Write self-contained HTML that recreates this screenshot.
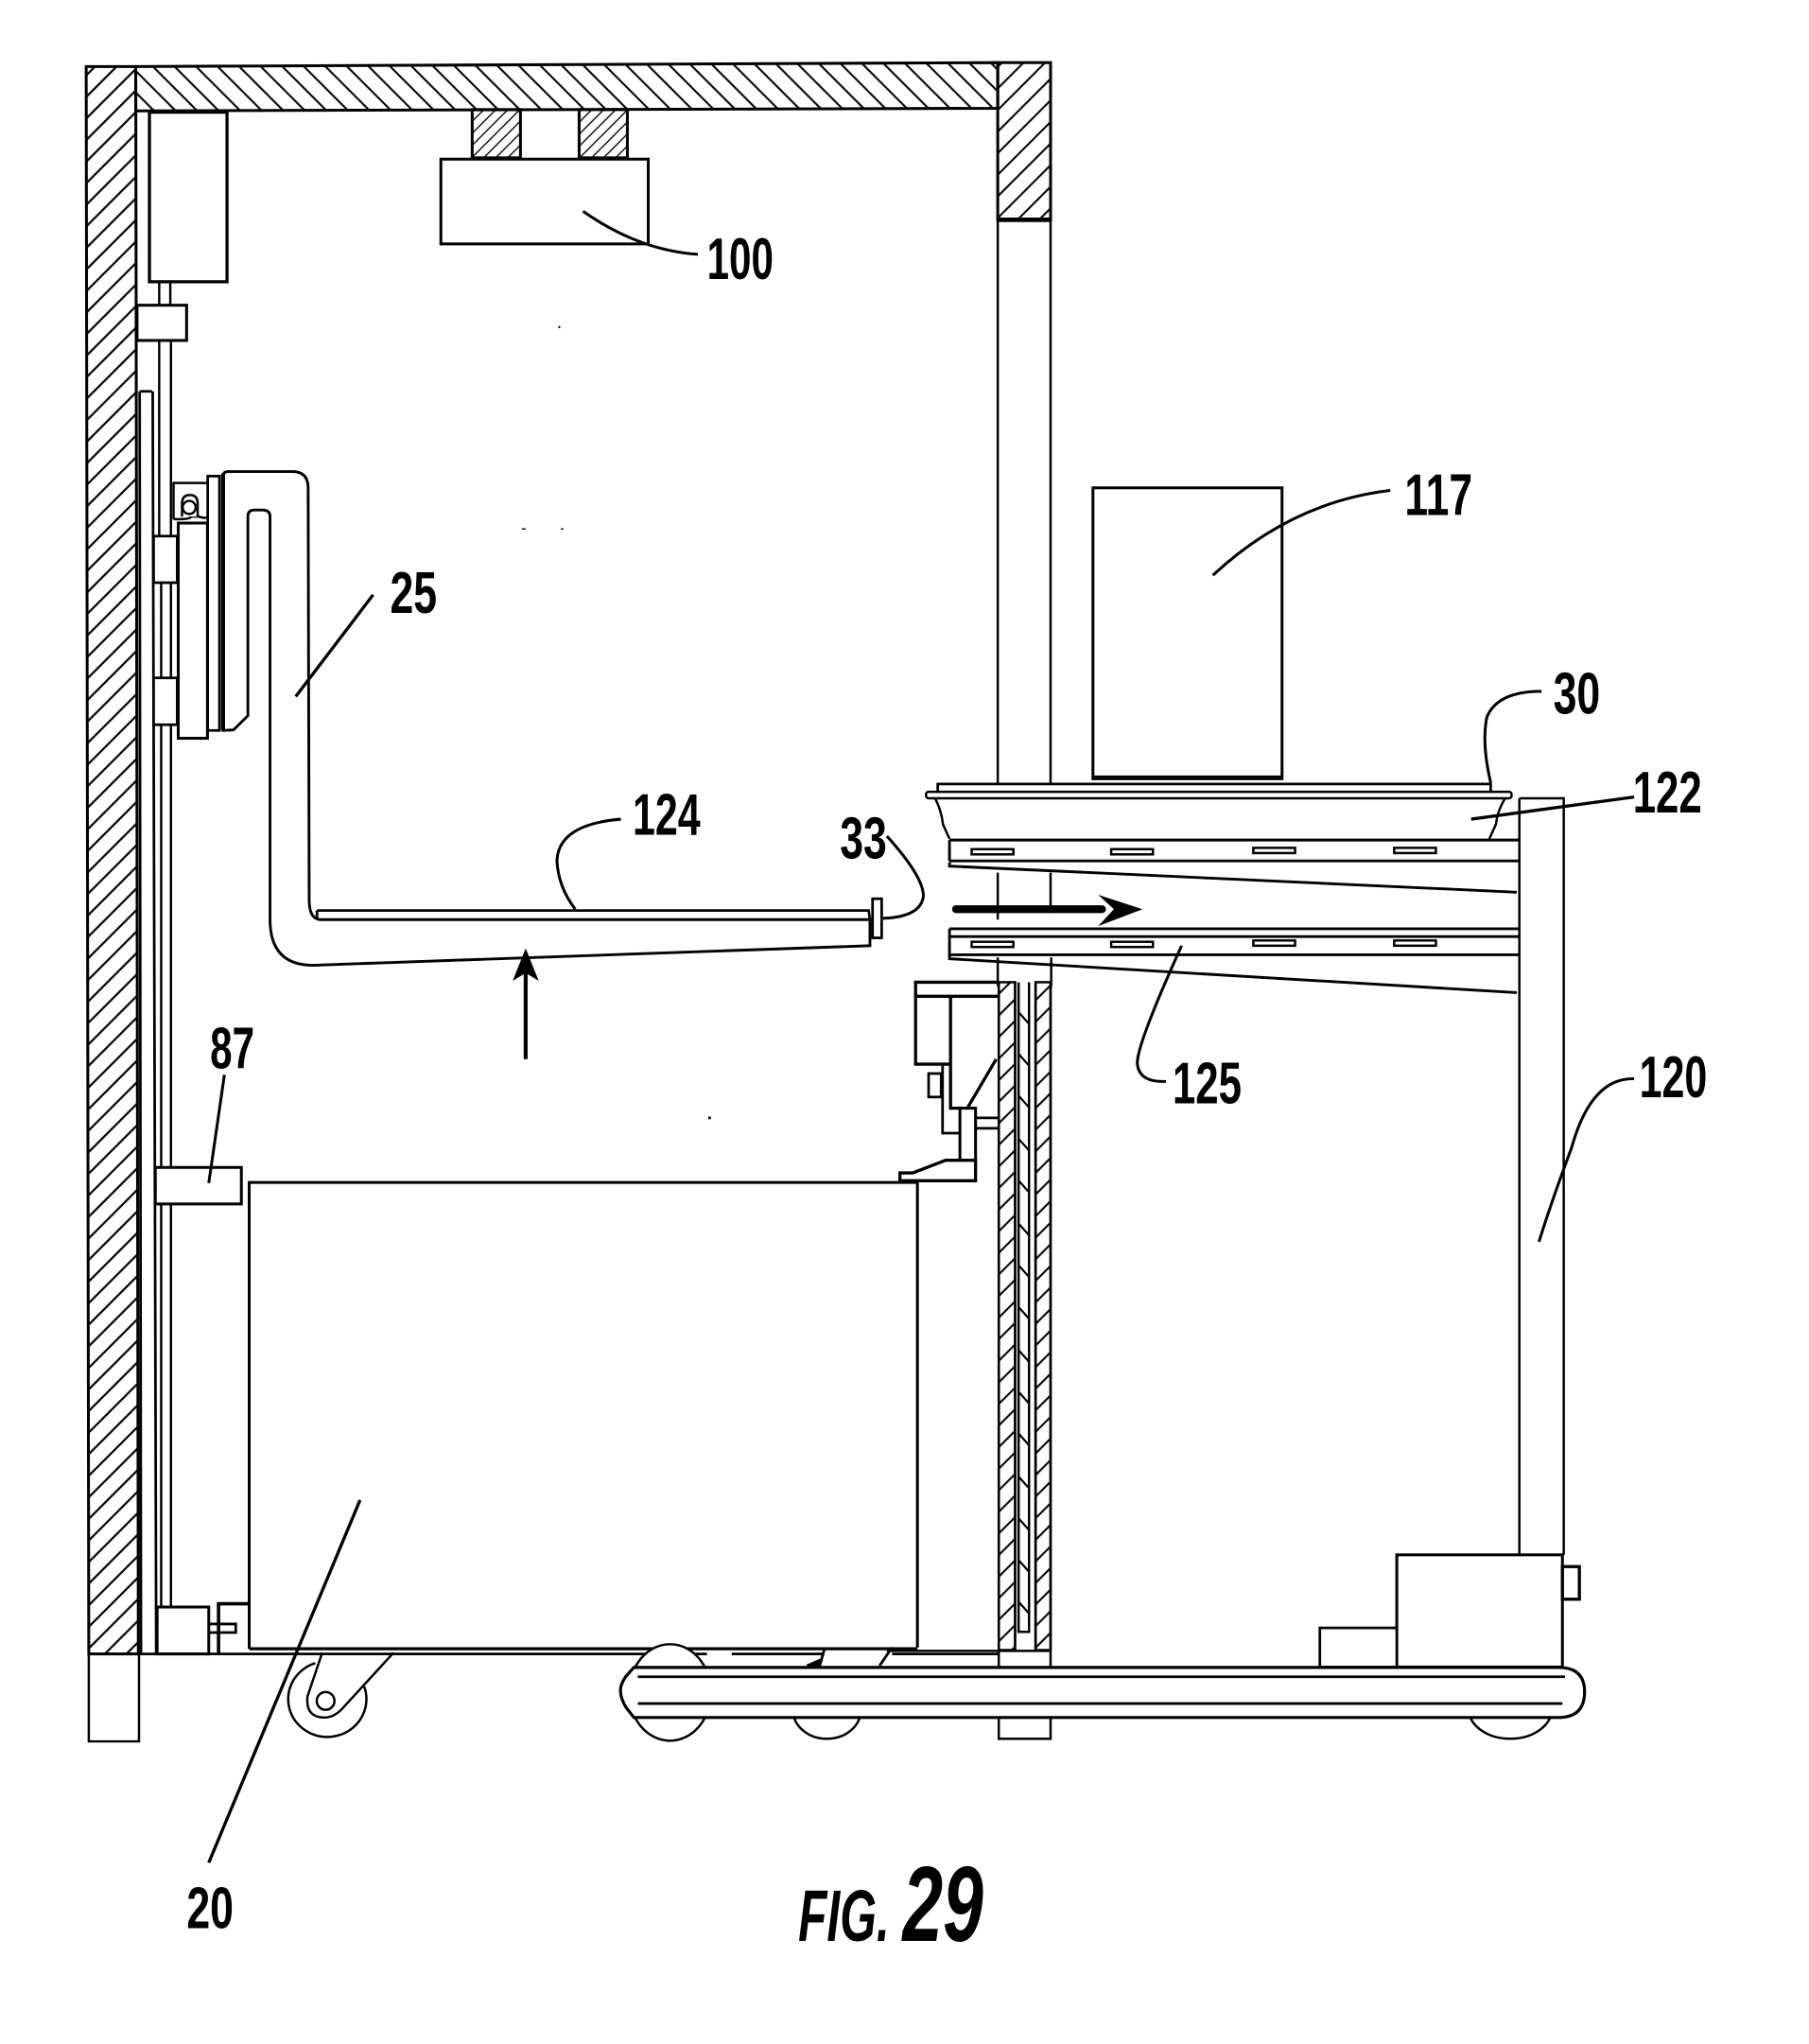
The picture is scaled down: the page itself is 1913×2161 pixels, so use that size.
<!DOCTYPE html>
<html><head><meta charset="utf-8"><title>FIG. 29</title>
<style>
html,body{margin:0;padding:0;background:#fff}
svg{display:block}
text{font-family:"Liberation Sans Narrow","Liberation Sans",sans-serif;font-weight:bold;fill:#000}
</style></head><body>
<svg xmlns="http://www.w3.org/2000/svg" width="1913" height="2161" viewBox="0 0 1387 1567">
<defs>
<pattern id="hL" width="11.7" height="11.7" patternUnits="userSpaceOnUse" patternTransform="translate(-0.27,0) rotate(45)"><line x1="5.85" y1="0" x2="5.85" y2="11.7" stroke="#000" stroke-width="1.6"/></pattern>
<pattern id="hR" width="11.7" height="11.7" patternUnits="userSpaceOnUse" patternTransform="translate(-2.77,0) rotate(45)"><line x1="5.85" y1="0" x2="5.85" y2="11.7" stroke="#000" stroke-width="1.5"/></pattern>
<pattern id="hC" width="11.7" height="11.7" patternUnits="userSpaceOnUse" patternTransform="translate(-8.27,0) rotate(-45)"><line x1="5.85" y1="0" x2="5.85" y2="11.7" stroke="#000" stroke-width="1.5"/></pattern>
<pattern id="hS" width="6.5" height="6.5" patternUnits="userSpaceOnUse" patternTransform="rotate(45)"><line x1="3.25" y1="0" x2="3.25" y2="6.5" stroke="#000" stroke-width="1"/></pattern>
</defs>
<rect width="1387" height="1567" fill="#fff"/>
<g fill="none" stroke="#000" stroke-width="1.8">
<!-- walls -->
<polygon points="66,51 104,51 106,1268 68,1268" fill="url(#hL)" stroke-width="2.2"/>
<path d="M68,1268 V1335 H106.5 V1268"/>
<polygon points="104,51 765,48 765,83 104,85" fill="url(#hC)" stroke-width="2.2"/>
<rect x="765" y="48" width="40.5" height="120.5" fill="url(#hR)" stroke-width="2.2"/>
<path d="M765,168.5 H805.5" stroke-width="3.4"/>
<path d="M765,168 V600 M805.5,168 V600 M765,669 V705 M805.5,669 V700 M765,734 V756 M806,734 V756"/>
<!-- ceiling unit -->
<rect x="362" y="84" width="37" height="37" fill="url(#hS)" stroke-width="2.2"/>
<rect x="444" y="84" width="37" height="37" fill="url(#hS)" stroke-width="2.2"/>
<rect x="338" y="122" width="159" height="65" fill="#fff" stroke-width="2.2"/>
<!-- motor and rails -->
<rect x="114.5" y="86" width="59.5" height="130" stroke-width="2.4"/>
<path d="M122,216 V234 M130.5,216 V234"/>
<rect x="105" y="234" width="38" height="27" fill="#fff" stroke-width="2.2"/>
<path d="M122,261 V411 M131,261 V1232 M123.5,447 V520 M123.5,556 V1232"/>
<path d="M107,300 H116.5 M107,300 L108,1268 M117,300 L119.7,1268" stroke-width="2"/>
<!-- carriage -->
<rect x="117.7" y="411" width="18.1" height="35.7" fill="#fff" stroke-width="2"/>
<rect x="117.7" y="519.7" width="18.1" height="35.9" fill="#fff" stroke-width="2"/>
<path d="M133,398 V370.3 H159.5 M133,398 H139 Q145,398 147,396 H152 Q158,398 159,396"/>
<path d="M139.5,396 V386 Q139.5,379.5 145.5,379.5 Q151.5,379.5 151.5,386 V396" fill="#fff"/>
<circle cx="145" cy="389" r="5"/>
<rect x="136.6" y="401" width="22.4" height="165" fill="#fff" stroke-width="2.2"/>
<rect x="159.2" y="365" width="9" height="195" fill="#fff" stroke-width="2"/>
<!-- fork -->
<path d="M171,560 V365 Q171,361.5 175,361.5 H224 Q236.2,361.5 236.2,374 L237,690 Q237,705 246,705 H667 V725 L240,740 Q207,740 207,705 V396 Q207,391 201,391 H195 Q190,391 190,396 V548.7 L178.9,559.6 Z" fill="#fff" stroke-width="2.1"/>
<path d="M171,363 V560" stroke-width="3"/>
<path d="M243,698 H666 L667,705 M243,698 V705" stroke-width="2"/>
<rect x="669" y="689" width="7" height="30" fill="#fff" stroke-width="2"/>
<!-- lower hatched wall -->
<rect x="765.8" y="753" width="12.5" height="512" fill="url(#hR)"/>
<rect x="794" y="753" width="11.5" height="512" fill="url(#hR)"/>
<path d="M765.8,753 V1278 M805.5,753 V1278 M778.3,753 V1265 M794,753 V1265 M781,753 V1251 H789 V753"/>
<path d="M781,776 l8,9 M781,808 l8,9 M781,840 l8,9 M781,873 l8,9 M781,905 l8,9 M781,938 l8,9 M781,970 l8,9 M781,1002 l8,9 M781,1035 l8,9 M781,1067 l8,9 M781,1099 l8,9 M781,1132 l8,9 M781,1164 l8,9 M781,1196 l8,9 M781,1228 l8,9" stroke-width="1.6"/>
<!-- mechanism beside wall -->
<path d="M728.8,815.8 H702 V753 H766 M702,763.8 H766 M728.8,763.8 V849.6 H748 M763.8,812 L742,849" stroke-width="2.4"/>
<rect x="712" y="823" width="9.6" height="18" stroke-width="2"/>
<path d="M722.7,817 V868.7 H736" stroke-width="2"/>
<rect x="736" y="849.6" width="12" height="40" fill="#fff" stroke-width="2.2"/>
<path d="M748,857 H766 M748,865 H766" stroke-width="2"/>
<path d="M748,889.5 H725 L699.8,899.2 H690 V905.2 H748 Z" fill="#fff" stroke-width="2.4"/>
<!-- box 20 -->
<path d="M191,1264 V906.5 H703.4 V1263" fill="#fff" stroke-width="2.2"/>
<!-- block 87 -->
<rect x="119" y="895" width="66" height="28" fill="#fff" stroke-width="2.2"/>
<!-- bottom left -->
<rect x="120.4" y="1232" width="39.6" height="36" fill="#fff" stroke-width="2.2"/>
<path d="M167.5,1267 V1229.5 H191" stroke-width="2.6"/>
<path d="M160.8,1245 H180.7 V1251.6 H160.8 M167.5,1245 V1251.6" stroke-width="2"/>
<!-- floor -->
<path d="M68,1268 H542 M561,1268 H632 M684,1268 H765.8" stroke-width="2"/>
<path d="M191,1264 H703.4" stroke-width="2.4"/>
<path d="M680,1265.6 H805.5"/>
<rect x="765.8" y="1316" width="39.7" height="17"/>
<!-- caster -->
<path d="M241.7,1275 A30 29 0 1 0 279.2,1293"/>
<path d="M247,1267 L235.7,1300.5 Q234,1316.7 248.9,1316.7 Q256,1316.7 262.3,1310 L301.7,1267"/>
<circle cx="249.6" cy="1304" r="6.8"/>
<!-- wheels -->
<ellipse cx="513.7" cy="1297.5" rx="31.4" ry="37" fill="#fff"/>
<ellipse cx="634" cy="1311" rx="26" ry="22" fill="#fff"/>
<ellipse cx="1158" cy="1310" rx="32" ry="23" fill="#fff"/>
<path d="M632,1264.6 L628.5,1277 M684,1263 L674.4,1277" stroke-width="2"/>
<polygon points="618.7,1277 628.5,1272.7 628.5,1277" fill="#000"/>
<!-- base -->
<path d="M486,1278.3 H1195 Q1215,1278.3 1215,1297 Q1215,1316.7 1195,1316.7 H486 L480,1309 Q475.7,1302 475.7,1296 Q475.7,1291 480,1285 Z" fill="#fff" stroke-width="2.3"/>
<path d="M489,1285.5 H1200 M489,1306 H1198" stroke-width="2"/>
<!-- cabinet at right -->
<path d="M1165,612 H1199 V1192 M1165,612 V1192"/>
<rect x="1071" y="1192" width="127" height="86" fill="#fff" stroke-width="2.2"/>
<rect x="1012" y="1248" width="59" height="30" fill="#fff" stroke-width="2"/>
<rect x="1198" y="1201" width="13" height="25" fill="#fff" stroke-width="2.4"/>
<!-- tray -->
<rect x="838" y="374" width="145" height="223" fill="#fff" stroke-width="2.2"/>
<path d="M838,596 H983" stroke-width="3"/>
<path d="M719,611 V601 H1143 V611" fill="#fff" stroke-width="2"/>
<rect x="710" y="607" width="449" height="5" rx="2" fill="#fff"/>
<path d="M717,612 Q722,622 723,632 L728,643 M1154,612 Q1148,622 1147,632 L1142,643" fill="#fff"/>
<path d="M728,644 H1165 M728,660 H1165 M728,644 V660 M728,661 V664 L1163,684" stroke-width="2.1"/>
<path d="M728,712 H1165 M728,718 H1165 M728,732 H1165 M728,712 V732 M728,732 V735 L1163,761" stroke-width="2.1"/>
<rect x="745" y="651" width="32" height="4"/><rect x="852" y="651" width="32" height="4"/><rect x="961" y="650" width="32" height="4"/><rect x="1069" y="650" width="32" height="4"/>
<rect x="745" y="722" width="32" height="4"/><rect x="852" y="722" width="32" height="4"/><rect x="961" y="721" width="32" height="4"/><rect x="1069" y="721" width="32" height="4"/>
<!-- leaders -->
<path d="M447,162 Q490,192 535,195" stroke-width="2.2"/>
<path d="M226.7,534 L286,456" stroke-width="2.4"/>
<path d="M476,628 Q428,632 427,660 Q428,680 441,697" stroke-width="2.2"/>
<path d="M680,641 Q708,672 708,687 Q706,703 677,704" stroke-width="2.2"/>
<path d="M160,907 L172,824" stroke-width="2.2"/>
<path d="M276,1150 L160,1428" stroke-width="2.4"/>
<path d="M930,441 Q990,385 1066,376" stroke-width="2.2"/>
<path d="M1143,600 Q1136,570 1140,550 Q1148,530 1182,530" stroke-width="2.2"/>
<path d="M1128,628 L1253,611" stroke-width="2.4"/>
<path d="M906,725 Q872,800 872,815 Q873,830 894,829" stroke-width="2.2"/>
<path d="M1253,827 Q1220,826 1205,880 Q1190,920 1180,952" stroke-width="2.2"/>
<!-- arrows -->
<path d="M403,812 V745" stroke-width="3"/>
<path d="M733,697 H845" stroke-width="6" stroke-linecap="round"/>
</g>
<polygon points="403,727 393,752 403,746 413,752" fill="#000"/>
<polygon points="842,686 876,697 842,710 854,697" fill="#000"/>
<!-- specks -->
<g fill="#000"><rect x="428" y="250" width="1.5" height="1.5"/><rect x="400" y="405" width="3" height="1"/><rect x="430" y="405" width="2" height="1"/><rect x="543" y="856" width="2" height="2"/></g>
<!-- labels -->
<text x="542" y="214" font-size="45" textLength="51" lengthAdjust="spacingAndGlyphs">100</text>
<text x="299" y="470" font-size="45" textLength="36" lengthAdjust="spacingAndGlyphs">25</text>
<text x="1077" y="395" font-size="45" textLength="52" lengthAdjust="spacingAndGlyphs">117</text>
<text x="1191" y="547" font-size="45" textLength="36" lengthAdjust="spacingAndGlyphs">30</text>
<text x="1252" y="623" font-size="45" textLength="53" lengthAdjust="spacingAndGlyphs">122</text>
<text x="485" y="640" font-size="45" textLength="52" lengthAdjust="spacingAndGlyphs">124</text>
<text x="644" y="658" font-size="45" textLength="36" lengthAdjust="spacingAndGlyphs">33</text>
<text x="899" y="846" font-size="45" textLength="53" lengthAdjust="spacingAndGlyphs">125</text>
<text x="1257" y="841" font-size="45" textLength="52" lengthAdjust="spacingAndGlyphs">120</text>
<text x="161" y="819" font-size="45" textLength="34" lengthAdjust="spacingAndGlyphs">87</text>
<text x="143" y="1478" font-size="45" textLength="36" lengthAdjust="spacingAndGlyphs">20</text>
<text x="612" y="1488" font-size="56" font-style="italic" textLength="70" lengthAdjust="spacingAndGlyphs">FIG.</text>
<text x="692" y="1488" font-size="82" font-style="italic" textLength="62" lengthAdjust="spacingAndGlyphs">29</text>
</svg>
</body></html>
